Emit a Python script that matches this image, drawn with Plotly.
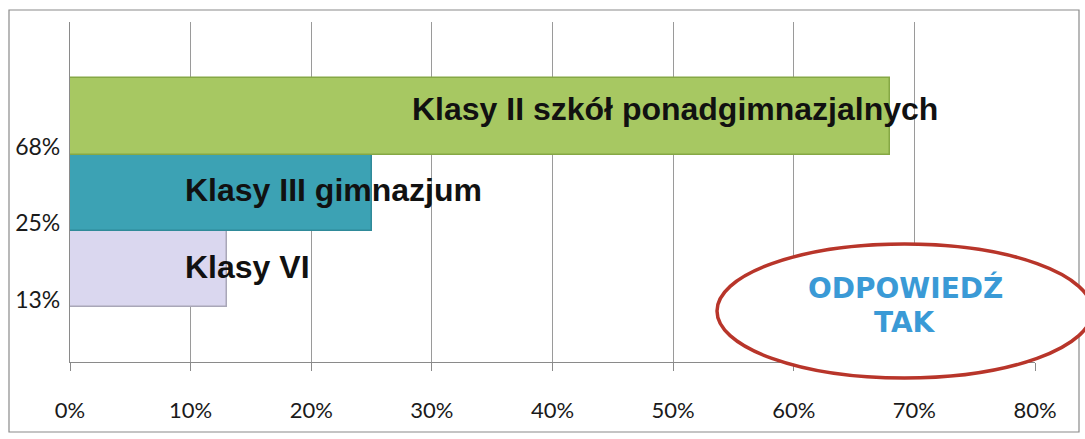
import plotly.graph_objects as go

categories = ["Klasy VI", "Klasy III gimnazjum", "Klasy II szkół ponadgimnazjalnych"]
values = [13, 25, 68]
category_labels = ["13%", "25%", "68%"]
x_ticks = [0, 10, 20, 30, 40, 50, 60, 70, 80]
x_tick_labels = [f"{v}%" for v in x_ticks]

bar_colors = ["#dad7ef", "#3ca2b4", "#a7c862"]
edge_colors = ["#a9a7b8", "#2f8a99", "#86a845"]
label_x = [9.4, 9.4, 28.2]
label_dy = [0.03, 0.03, 0.1]

pos = list(range(1, len(categories) + 1))

fig = go.Figure()
fig.add_trace(go.Bar(
    x=values, y=pos, orientation="h", width=1.0,
    marker=dict(color=bar_colors, line=dict(color=edge_colors, width=1.5)),
    hoverinfo="skip", showlegend=False,
))

for i, c in enumerate(categories):
    fig.add_annotation(x=label_x[i], y=pos[i] + label_dy[i], xref="x", yref="y",
                       text=f"<b>{c}</b>", showarrow=False, xanchor="left", yanchor="middle",
                       font=dict(family="Liberation Sans, Arial", size=32, color="#111111"))

# ellipse callout
fig.add_shape(type="circle", xref="paper", yref="paper",
              x0=(717 - 70) / 965, x1=(1092 - 70) / 965,
              y0=(362 - 378) / 340, y1=(362 - 244) / 340,
              line=dict(color="#b8352a", width=3.5), fillcolor="white", layer="above")
fig.add_annotation(xref="paper", yref="paper", x=(905 - 70) / 965, y=(362 - 288) / 340,
                   text="<b>ODPOWIEDŹ</b>", showarrow=False, xanchor="center", yanchor="middle",
                   font=dict(family="DejaVu Sans", size=28, color="#3a9ad6"))
fig.add_annotation(xref="paper", yref="paper", x=(905 - 70) / 965, y=(362 - 322) / 340,
                   text="<b>TAK</b>", showarrow=False, xanchor="center", yanchor="middle",
                   font=dict(family="DejaVu Sans", size=28, color="#3a9ad6"))

# outer chart border
fig.add_shape(type="rect", xref="paper", yref="paper",
              x0=(9 - 70) / 965, x1=(1079 - 70) / 965,
              y0=(362 - 432) / 340, y1=(362 - 10) / 340,
              line=dict(color="#8a8a8a", width=1.2), layer="below")

fig.update_layout(
    width=1085, height=439,
    margin=dict(l=70, r=50, t=22, b=77),
    paper_bgcolor="white", plot_bgcolor="white",
    bargap=0,
    xaxis=dict(range=[0, 80], tickvals=x_ticks, ticktext=x_tick_labels,
               showgrid=True, gridcolor="#9a9a9a", gridwidth=1,
               showline=True, linecolor="#8a8a8a", linewidth=1.2,
               ticks="outside", ticklen=8, tickcolor="#8a8a8a",
               ticklabelstandoff=20, zeroline=False,
               tickfont=dict(family="Lato, Open Sans", size=22, color="#1a1a1a")),
    yaxis=dict(range=[-0.22, 4.24], tickvals=[p - 0.4 for p in pos], ticktext=category_labels,
               showgrid=False, showline=True, linecolor="#8a8a8a", linewidth=1.2,
               ticks="", zeroline=False, ticklabelstandoff=4,
               tickfont=dict(family="Lato, Open Sans", size=23, color="#1a1a1a")),
)

fig.write_html("out.html", config={"displayModeBar": False},
               post_script="document.body.style.margin='0';document.body.style.overflow='hidden';")
